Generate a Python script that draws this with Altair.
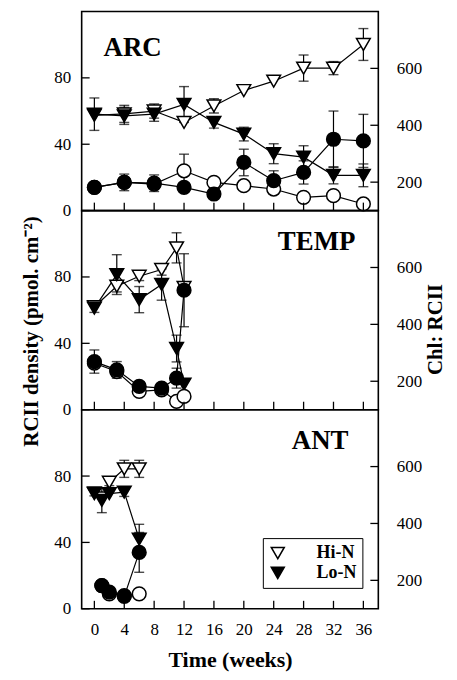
import altair as alt
import pandas as pd

# ---------------- data ----------------
x_tick_values = [0, 4, 8, 12, 16, 20, 24, 28, 32, 36]
left_tick_values = [0, 40, 80]
right_tick_values = [200, 400, 600]
treatments = ["Hi-N", "Lo-N"]

# ARC
arc_weeks = [0, 4, 8, 12, 16, 20, 24, 28, 32, 36]
arc_hi_rc = [14, 17, 16, 24, 17, 15, 13, 8, 9, 4]
arc_hi_rc_err = [0, 0, 0, 10, 0, 0, 3, 0, 0, 0]
arc_lo_rc = [14, 17, 16.5, 14, 10, 29, 18, 23, 43, 42]
arc_lo_rc_err = [0, 5, 5, 0, 0, 8, 6, 7, 17, 16]
arc_hi_chl = [435, 440, 450, 410, 468, 522, 555, 601, 601, 684]
arc_hi_chl_err = [0, 30, 25, 0, 25, 0, 0, 46, 23, 56]
arc_lo_chl = [439, 433, 439, 473, 410, 369, 300, 288, 224, 224]
arc_lo_chl_err = [57, 30, 25, 63, 20, 24, 35, 40, 30, 40]

# TEMP
temp_weeks = [0, 3, 6, 9, 11, 12]
temp_hi_rc = [28, 23, 11, 12, 5, 8]
temp_hi_rc_err = [0, 0, 0, 0, 0, 0]
temp_lo_rc = [29, 24, 14, 13, 19, 72]
temp_lo_rc_err = [7, 5, 0, 0, 6, 22]
temp_hi_chl = [462, 534, 569, 593, 669, 530]
temp_hi_chl_err = [0, 20, 15, 20, 53, 0]
temp_lo_chl = [457, 575, 487, 540, 315, 190]
temp_lo_chl_err = [15, 70, 46, 55, 47, 0]

# ANT
ant_chl_weeks = [0, 1, 2, 4, 6]
ant_hi_chl = [505, 490, 545, 592, 592]
ant_hi_chl_err = [0, 0, 12, 30, 30]
ant_lo_chl = [507, 481, 505, 510, 345]
ant_lo_chl_err = [10, 43, 0, 15, 52]
ant_rc_weeks = [1, 2, 4, 6]
ant_hi_rc = [14, 9, 8, 9]
ant_hi_rc_err = [0, 0, 0, 0]
ant_lo_rc = [14, 10, 7.5, 34]
ant_lo_rc_err = [0, 0, 3, 12]

# ---------------- styling ----------------
SERIF = "Liberation Serif"
W, H = 298, 200
X_DOM = [-1.7, 38]
L_DOM = [0, 120]
R_DOM = [100, 800]


def frame(weeks, hi, hi_e, lo, lo_e):
    a = pd.DataFrame({"week": weeks, "v": hi, "e": hi_e, "s": treatments[0]})
    b = pd.DataFrame({"week": weeks, "v": lo, "e": lo_e, "s": treatments[1]})
    return pd.concat([a, b], ignore_index=True)


def xenc(show):
    if show:
        ax = alt.Axis(values=x_tick_values, ticks=False, domain=False, grid=False,
                      labelFont=SERIF, labelFontSize=17, labelColor="black",
                      labelPadding=13, labelFlush=False,
                      title="Time (weeks)", titleFont=SERIF, titleFontSize=22,
                      titleFontWeight="bold", titleColor="black", titlePadding=12)
    else:
        ax = None
    return alt.X("week:Q", scale=alt.Scale(domain=X_DOM, nice=False, zero=False), axis=ax)


def yenc(field, side, title):
    dom = L_DOM if side == "left" else R_DOM
    vals = left_tick_values if side == "left" else right_tick_values
    kw = dict(orient=side, values=vals, ticks=False, domain=False, grid=False,
              labelFont=SERIF, labelFontSize=17, labelColor="black",
              labelPadding=11 if side == "left" else 18, labelFlush=False)
    if title:
        kw.update(title=title, titleFont=SERIF, titleFontSize=21, titleFontWeight="bold",
                  titleColor="black", titleAngle=270,
                  titlePadding=12 if side == "left" else 24,
                  titleY=121 if side == "left" else 119)
    else:
        kw.update(title=None)
    return alt.Y(field, scale=alt.Scale(domain=dom, nice=False, zero=False),
                 axis=alt.Axis(**kw))


def err_layers(df, side, title, xshow):
    base = alt.Chart(df).transform_filter("datum.e > 0").transform_calculate(
        lo="datum.v - datum.e", hi="datum.v + datum.e")
    bars = base.mark_rule(color="black", strokeWidth=1.2).encode(
        x=xenc(xshow), y=yenc("lo:Q", side, title), y2="hi:Q")
    caps = base.transform_fold(["lo", "hi"], as_=["end", "ev"]).mark_tick(
        orient="horizontal", size=10, thickness=1.4, color="black").encode(
        x=xenc(xshow), y=yenc("ev:Q", side, title))
    return bars, caps


def panel(name, rc_df, chl_df, xshow, titles, legend, label_x, label_y, label_align):
    ltitle = "RCII density (pmol. cm⁻²)" if titles else None
    rtitle = "Chl: RCII" if titles else None

    # ---- right axis : Chl:RCII (triangles)
    tri_line = alt.Chart(chl_df).mark_line(color="black", strokeWidth=1.2).encode(
        x=xenc(xshow), y=yenc("v:Q", "right", rtitle), detail="s:N")
    tri_bars, tri_caps = err_layers(chl_df, "right", rtitle, xshow)
    tri_pts = alt.Chart(chl_df).mark_point(
        shape="triangle-down", filled=True, stroke="black", strokeWidth=1.5,
        size=190, opacity=1).encode(
        x=xenc(xshow), y=yenc("v:Q", "right", rtitle),
        fill=alt.Fill("s:N", scale=alt.Scale(domain=treatments, range=["white", "black"]),
                      legend=legend))
    rticks = alt.Chart(pd.DataFrame({"v": right_tick_values})).mark_rule(
        color="black", strokeWidth=1.3).encode(
        y=yenc("v:Q", "right", rtitle), x=alt.value(W - 8), x2=alt.value(W))
    right = alt.layer(tri_line, tri_bars, tri_caps, tri_pts, rticks)

    # ---- left axis : RCII density (circles)
    c_line = alt.Chart(rc_df).mark_line(color="black", strokeWidth=1.2).encode(
        x=xenc(xshow), y=yenc("v:Q", "left", ltitle), detail="s:N")
    c_bars, c_caps = err_layers(rc_df, "left", ltitle, xshow)
    c_hi = alt.Chart(rc_df).transform_filter(alt.datum.s == treatments[0]).mark_point(
        shape="circle", filled=True, fill="white", stroke="black", strokeWidth=1.5,
        size=190, opacity=1).encode(x=xenc(xshow), y=yenc("v:Q", "left", ltitle))
    c_lo = alt.Chart(rc_df).transform_filter(alt.datum.s == treatments[1]).mark_point(
        shape="circle", filled=True, fill="black", stroke="black", strokeWidth=1.5,
        size=190, opacity=1).encode(x=xenc(xshow), y=yenc("v:Q", "left", ltitle))
    lticks = alt.Chart(pd.DataFrame({"v": left_tick_values})).mark_rule(
        color="black", strokeWidth=1.3).encode(
        y=yenc("v:Q", "left", ltitle), x=alt.value(0), x2=alt.value(8))
    xticks = alt.Chart(pd.DataFrame({"week": x_tick_values})).mark_rule(
        color="black", strokeWidth=1.3).encode(
        x=xenc(xshow), y=alt.value(H), y2=alt.value(H - 8))
    label = alt.Chart(pd.DataFrame({"label": [name]})).mark_text(
        font=SERIF, fontSize=27, fontWeight="bold", align=label_align,
        baseline="alphabetic", color="black").encode(
        x=alt.value(label_x), y=alt.value(label_y), text="label:N")
    left = alt.layer(c_line, c_bars, c_caps, c_hi, c_lo, lticks, xticks, label)

    return alt.layer(right, left).resolve_scale(y="independent").properties(
        width=W, height=H)


arc_rc = frame(arc_weeks, arc_hi_rc, arc_hi_rc_err, arc_lo_rc, arc_lo_rc_err)
arc_chl = frame(arc_weeks, arc_hi_chl, arc_hi_chl_err, arc_lo_chl, arc_lo_chl_err)
temp_rc = frame(temp_weeks, temp_hi_rc, temp_hi_rc_err, temp_lo_rc, temp_lo_rc_err)
temp_chl = frame(temp_weeks, temp_hi_chl, temp_hi_chl_err, temp_lo_chl, temp_lo_chl_err)
ant_rc = frame(ant_rc_weeks, ant_hi_rc, ant_hi_rc_err, ant_lo_rc, ant_lo_rc_err)
ant_chl = frame(ant_chl_weeks, ant_hi_chl, ant_hi_chl_err, ant_lo_chl, ant_lo_chl_err)

legend = alt.Legend(orient="none", legendX=182, legendY=129, title=None,
                    symbolType="triangle-down", symbolSize=170,
                    symbolStrokeColor="black", symbolStrokeWidth=1.5,
                    labelFont=SERIF, labelFontSize=18, labelFontWeight="bold",
                    labelColor="black", labelOffset=30, padding=6,
                    strokeColor="black", fillColor="white", rowPadding=2)

p1 = panel("ARC", arc_rc, arc_chl, False, False, None, 22, 45, "left")
p2 = panel("TEMP", temp_rc, temp_chl, False, True, None, 275, 40, "right")
p3 = panel("ANT", ant_rc, ant_chl, True, False, legend, 268, 39, "right")

chart = alt.vconcat(p1, p2, p3, spacing=0, bounds="flush").resolve_scale(
    x="independent", y="independent", fill="independent").resolve_legend(
    fill="independent").properties(
    padding={"left": 12, "top": 1, "right": 2, "bottom": 2},
    background="white").configure_view(stroke="black", strokeWidth=1.6)

chart.save("out.html", embed_options={"renderer": "svg", "actions": False})
